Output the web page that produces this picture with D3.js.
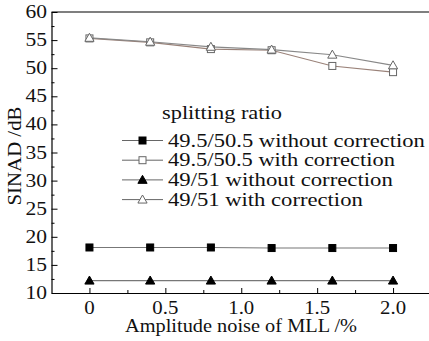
<!DOCTYPE html>
<html>
<head>
<meta charset="utf-8">
<script src="https://cdn.jsdelivr.net/npm/d3@7"></script>
<style>
html,body{margin:0;padding:0;background:#fff;}
svg{display:block;}
</style>
</head>
<body>
<svg id="chart" width="429" height="341"></svg>
<script>
const xValues = [0, 0.4, 0.8, 1.2, 1.6, 2.0];
const s495WithoutCorr = [18.1, 18.1, 18.1, 18.0, 18.0, 18.0];
const s495WithCorr = [55.3, 54.6, 53.4, 53.2, 50.4, 49.3];
const s49WithoutCorr = [12.2, 12.2, 12.2, 12.2, 12.2, 12.2];
const s49WithCorr = [55.4, 54.7, 53.8, 53.3, 52.4, 50.5];
const seriesNames = ["49.5/50.5 without correction", "49.5/50.5 with correction", "49/51 without correction", "49/51 with correction"];
const xTickValues = [0, 0.5, 1.0, 1.5, 2.0];
const xTickLabels = ["0", "0.5", "1.0", "1.5", "2.0"];
const yTickValues = [10, 15, 20, 25, 30, 35, 40, 45, 50, 55, 60];
const legendTitle = "splitting ratio";
const xTitle = "Amplitude noise of MLL /%";
const yTitle = "SINAD /dB";

(function () {
const FONT = "'Liberation Serif', 'Times New Roman', serif";
const FS = 18.5;
const svg = d3.select("#chart");
const pLeft = 51.5, pRight = 431, pTop = 12, pBottom = 293;
const x = d3.scaleLinear().domain([-0.25, 2.25]).range([pLeft, pRight]);
const y = d3.scaleLinear().domain([10, 60]).range([pBottom, pTop]);

function wideText(parent, str, tx, ty, anchor, targetW, rotate) {
  const g = parent.append("g");
  const t = g.append("text").attr("font-family", FONT).attr("font-size", FS).attr("fill", "#111")
    .attr("text-anchor", anchor).text(str);
  let w = 0;
  try { w = t.node().getComputedTextLength(); } catch (e) { w = 0; }
  if (!w) { try { w = t.node().getBBox().width; } catch (e) { w = 0; } }
  const sx = w > 0 ? targetW / w : 1.2;
  g.attr("transform", `translate(${tx},${ty})${rotate ? " rotate(-90)" : ""} scale(${sx},1)`);
  return g;
}

const series = [
  {name: seriesNames[0], values: s495WithoutCorr, shape: "square", fill: "#000", stroke: "#000", line: "#777", w: 257},
  {name: seriesNames[1], values: s495WithCorr, shape: "square", fill: "#fff", stroke: "#666", line: "#9a8279", w: 227},
  {name: seriesNames[2], values: s49WithoutCorr, shape: "triangle", fill: "#000", stroke: "#000", line: "#777", w: 225},
  {name: seriesNames[3], values: s49WithCorr, shape: "triangle", fill: "#fff", stroke: "#666", line: "#888", w: 195}
];

function marker(g, shape, cx, cy, fill, stroke) {
  if (shape === "square") {
    g.append("rect").attr("x", cx - 3.5).attr("y", cy - 3.5).attr("width", 7).attr("height", 7)
      .attr("fill", fill).attr("stroke", stroke).attr("stroke-width", 1);
  } else {
    const s = 4.6;
    g.append("path").attr("d", `M${cx},${cy - s}L${cx + s},${cy + s * 0.75}L${cx - s},${cy + s * 0.75}Z`)
      .attr("fill", fill).attr("stroke", stroke).attr("stroke-width", 1);
  }
}

svg.append("line").attr("x1", pLeft).attr("x2", pRight).attr("y1", pTop).attr("y2", pTop).attr("stroke", "#000").attr("stroke-width", 1.2);

const xAxis = d3.axisBottom(x).tickValues(xTickValues).tickFormat("").tickSizeInner(-5).tickSizeOuter(0);
const gx = svg.append("g").attr("transform", `translate(0,${pBottom})`).call(xAxis);
gx.select(".domain").attr("stroke", "#000").attr("stroke-width", 1.2);
xTickValues.forEach((v, i) => {
  wideText(svg, xTickLabels[i], x(v), 314, "middle", xTickLabels[i].length === 1 ? 10.5 : 26);
});
const xMinor = d3.axisBottom(x).tickValues([0.25, 0.75, 1.25, 1.75]).tickFormat("").tickSizeInner(-3).tickSizeOuter(0);
const gxm = svg.append("g").attr("transform", `translate(0,${pBottom})`).call(xMinor);
gxm.select(".domain").remove();

const yAxis = d3.axisLeft(y).tickValues(yTickValues).tickFormat("").tickSizeInner(-6).tickSizeOuter(0);
const gy = svg.append("g").attr("transform", `translate(${pLeft},0)`).call(yAxis);
gy.select(".domain").attr("stroke", "#000").attr("stroke-width", 1.2);
yTickValues.forEach(v => {
  wideText(svg, String(v), 47, y(v) + 6, "end", 21.5);
});
const yMinor = d3.axisLeft(y).tickValues(d3.range(12.5, 60, 5)).tickFormat("").tickSizeInner(-3).tickSizeOuter(0);
const gym = svg.append("g").attr("transform", `translate(${pLeft},0)`).call(yMinor);
gym.select(".domain").remove();

const lineGen = d3.line().x(d => x(d[0])).y(d => y(d[1]));
series.forEach(s => {
  const pts = xValues.map((v, i) => [v, s.values[i]]);
  svg.append("path").attr("d", lineGen(pts)).attr("fill", "none").attr("stroke", s.line).attr("stroke-width", 1.1);
});
series.forEach(s => {
  const g = svg.append("g");
  xValues.forEach((v, i) => marker(g, s.shape, x(v), y(s.values[i]), s.fill, s.stroke));
});

const leg = svg.append("g");
wideText(leg, legendTitle, 162, 119, "start", 120);
series.forEach((s, i) => {
  const cy = 140.5 + i * 19.7;
  leg.append("line").attr("x1", 122).attr("x2", 163).attr("y1", cy).attr("y2", cy).attr("stroke", "#666").attr("stroke-width", 1);
  marker(leg, s.shape, 142.5, cy, s.fill, s.stroke);
  wideText(leg, s.name, 168, cy + 6, "start", s.w);
});

wideText(svg, xTitle, 241, 332, "middle", 232);
wideText(svg, yTitle, 21, 156, "middle", 99, true);
})();
</script>
</body>
</html>
